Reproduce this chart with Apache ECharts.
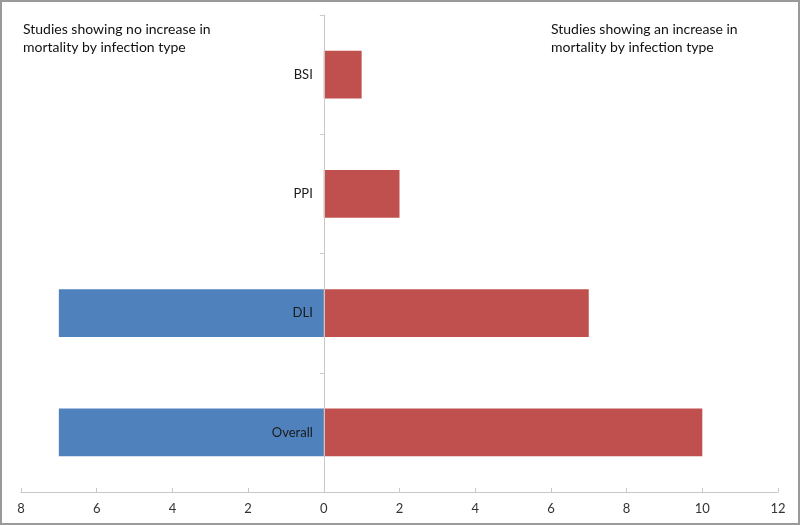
<!DOCTYPE html>
<html><head><meta charset="utf-8">
<script src="https://cdn.jsdelivr.net/npm/echarts@6/dist/echarts.min.js"></script>
<style>html,body{margin:0;padding:0;background:#fff}#c{width:800px;height:525px;box-sizing:border-box;border:2px solid #9a9a9a}</style>
</head><body><div id="c"></div>
<script>
const categories = ['Overall', 'DLI', 'PPI', 'BSI'];
const noIncrease = [-7, -7, 0, 0];
const increase = [10, 7, 2, 1];
const leftNote = 'Studies showing no increase in\nmortality by infection type';
const rightNote = 'Studies showing an increase in\nmortality by infection type';

const chart = echarts.init(document.getElementById('c'));
const font = 'Lato';
chart.setOption({
  animation: false,
  textStyle: { fontFamily: font },
  grid: { left: 19, right: 20, top: 13, bottom: 31, containLabel: false, outerBoundsMode: 'none' },
  xAxis: {
    type: 'value', min: -8, max: 12, interval: 2,
    axisLine: { show: true, lineStyle: { color: '#c8c8c8', width: 1 } },
    axisTick: { show: true, inside: true, length: 4, lineStyle: { color: '#c8c8c8' } },
    splitLine: { show: false },
    axisLabel: { color: '#333', fontSize: 13, margin: 10, formatter: v => String(Math.abs(v)) }
  },
  yAxis: {
    type: 'category', data: categories, z: 10,
    axisLine: { show: true, onZero: true, lineStyle: { color: '#c8c8c8', width: 1 } },
    axisTick: { show: true, length: 4, lineStyle: { color: '#c8c8c8' } },
    axisLabel: { show: false }
  },
  series: [
    { type: 'bar', name: 'no increase', stack: 's', data: noIncrease, barWidth: '40%',
      itemStyle: { color: '#4f81bd' } },
    { type: 'bar', name: 'increase', stack: 's', data: increase, barWidth: '40%',
      itemStyle: { color: '#c0504d' }, z: 3,
      label: { show: true, position: 'left', distance: 11, formatter: '{b}',
        color: '#1a1a1a', fontSize: 13, fontFamily: font } }
  ],
  graphic: [
    { type: 'text', left: 21, top: 18, style: { text: leftNote, font: '14px Lato', fill: '#111', lineHeight: 18 } },
    { type: 'text', left: 549, top: 18, style: { text: rightNote, font: '14px Lato', fill: '#111', lineHeight: 18 } }
  ]
});
</script></body></html>
